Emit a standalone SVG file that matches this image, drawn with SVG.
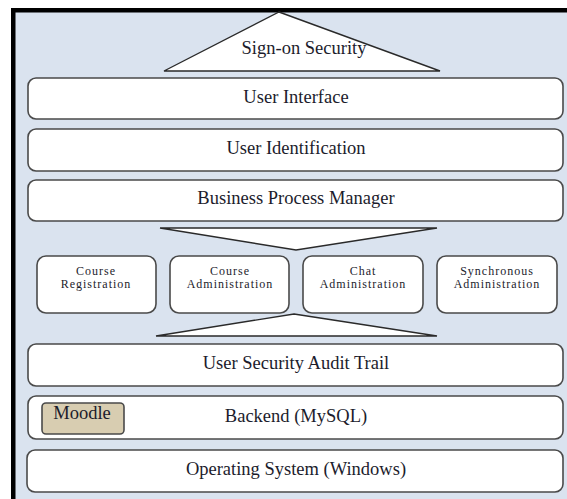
<svg xmlns="http://www.w3.org/2000/svg" width="567" height="499" viewBox="0 0 567 499">
  <style>
    .layer { fill: #ffffff; stroke: #4a4a4a; stroke-width: 1.6; }
    .wedge { fill: #ffffff; stroke: #2a2a2a; stroke-width: 1.4; stroke-linejoin: miter; }
    .label { font-family: "Liberation Serif", "Times New Roman", serif; font-size: 18.5px; fill: #1c1c2c; text-anchor: middle; }
    .small { font-family: "Liberation Serif", "Times New Roman", serif; font-size: 12px; letter-spacing: 1px; fill: #1c1c2c; text-anchor: middle; }
  </style>

  <!-- frame -->
  <rect x="0" y="0" width="567" height="499" fill="#ffffff"/>
  <rect x="14" y="11" width="553" height="488" fill="#dae3ef"/>
  <rect x="12" y="8" width="555" height="4.5" fill="#000000"/>
  <rect x="11" y="8" width="4.5" height="491" fill="#000000"/>

  <g id="sign-on-security">
    <polygon class="wedge" points="279,12 440,71 164,71"/>
    <text class="label" x="304" y="54">Sign-on Security</text>
  </g>

  <g id="user-interface">
    <rect class="layer" x="28" y="78" width="535" height="41" rx="8"/>
    <text class="label" x="296" y="103">User Interface</text>
  </g>

  <g id="user-identification">
    <rect class="layer" x="28" y="129" width="535" height="42" rx="8"/>
    <text class="label" x="296" y="154">User Identification</text>
  </g>

  <g id="business-process-manager">
    <rect class="layer" x="28" y="180" width="535" height="41" rx="8"/>
    <text class="label" x="296" y="204">Business Process Manager</text>
  </g>

  <g id="connectors">
    <polygon class="wedge" points="160,228 437,228 296,250"/>
    <polygon class="wedge" points="294,314 437,336 156,336"/>
  </g>

  <g id="course-registration">
    <rect class="layer" x="37" y="256" width="119" height="57" rx="9"/>
    <text class="small" x="96" y="275">Course</text>
    <text class="small" x="96" y="288">Registration</text>
  </g>

  <g id="course-administration">
    <rect class="layer" x="170" y="256" width="119" height="57" rx="9"/>
    <text class="small" x="230" y="275">Course</text>
    <text class="small" x="230" y="288">Administration</text>
  </g>

  <g id="chat-administration">
    <rect class="layer" x="303" y="256" width="120" height="57" rx="9"/>
    <text class="small" x="363" y="275">Chat</text>
    <text class="small" x="363" y="288">Administration</text>
  </g>

  <g id="synchronous-administration">
    <rect class="layer" x="437" y="256" width="120" height="57" rx="9"/>
    <text class="small" x="497" y="275">Synchronous</text>
    <text class="small" x="497" y="288">Administration</text>
  </g>

  <g id="user-security-audit-trail">
    <rect class="layer" x="28" y="344" width="535" height="42" rx="8"/>
    <text class="label" x="296" y="369">User Security Audit Trail</text>
  </g>

  <g id="backend">
    <rect class="layer" x="28" y="396" width="535" height="43" rx="8"/>
    <text class="label" x="296" y="422">Backend (MySQL)</text>
  </g>

  <g id="moodle">
    <rect x="42" y="403" width="82" height="31" rx="4" fill="#d8cdb1" stroke="#4a4a4a" stroke-width="1.6"/>
    <text class="label" x="82" y="419">Moodle</text>
  </g>

  <g id="operating-system">
    <rect class="layer" x="27" y="450" width="536" height="42" rx="8"/>
    <text class="label" x="296" y="475">Operating System (Windows)</text>
  </g>
</svg>
